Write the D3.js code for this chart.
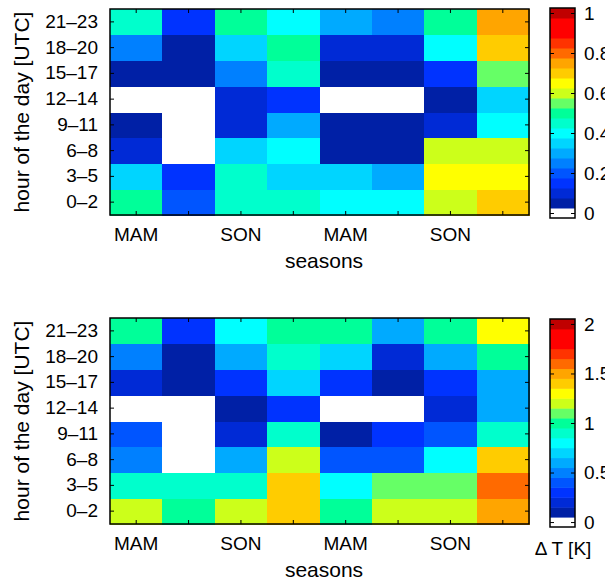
<!DOCTYPE html>
<html>
<head>
<meta charset="utf-8">
<script src="https://cdn.jsdelivr.net/npm/d3@7"></script>
<style>
  body { margin: 0; background: #fff; }
  svg { display: block; font-family: "Liberation Sans", Arial, Helvetica, sans-serif; }
</style>
</head>
<body>
<svg id="chart" width="605" height="581"></svg>
<script>
// ---- data ----
const seasons = ["MAM", "JJA", "SON", "DJF", "MAM2", "JJA2", "SON2", "DJF2"];
const seasonLabels = ["MAM", "", "SON", "", "MAM", "", "SON", ""];
const hours = ["0–2", "3–5", "6–8", "9–11", "12–14", "15–17", "18–20", "21–23"];

// top panel values (rows: hours 0–2 ... 21–23, columns: seasons)
const topValues = [
  [0.50, 0.20, 0.45, 0.45, 0.40, 0.40, 0.60, 0.70],
  [0.35, 0.15, 0.45, 0.35, 0.35, 0.30, 0.65, 0.65],
  [0.10, 0.00, 0.35, 0.40, 0.05, 0.05, 0.60, 0.60],
  [0.05, 0.00, 0.10, 0.30, 0.05, 0.05, 0.10, 0.40],
  [0.00, 0.00, 0.10, 0.15, 0.00, 0.00, 0.05, 0.35],
  [0.05, 0.05, 0.25, 0.45, 0.05, 0.05, 0.15, 0.55],
  [0.25, 0.05, 0.35, 0.50, 0.10, 0.10, 0.40, 0.70],
  [0.45, 0.15, 0.50, 0.40, 0.30, 0.25, 0.50, 0.75]
];

// bottom panel values, ΔT [K]
const bottomValues = [
  [1.2, 1.0, 1.2, 1.4, 1.0, 1.2, 1.2, 1.5],
  [0.9, 0.9, 0.9, 1.4, 0.8, 1.1, 1.1, 1.6],
  [0.5, 0.0, 0.6, 1.2, 0.4, 0.4, 0.8, 1.4],
  [0.4, 0.0, 0.2, 0.9, 0.1, 0.3, 0.4, 0.9],
  [0.0, 0.0, 0.1, 0.3, 0.0, 0.0, 0.2, 0.6],
  [0.2, 0.1, 0.3, 0.7, 0.3, 0.1, 0.3, 0.6],
  [0.5, 0.1, 0.6, 0.9, 0.7, 0.2, 0.6, 1.0],
  [1.0, 0.3, 0.8, 1.0, 1.0, 0.6, 1.0, 1.3]
];

const topTicks = [0, 0.2, 0.4, 0.6, 0.8, 1];
const bottomTicks = [0, 0.5, 1, 1.5, 2];

// 21-level colormap (first level white)
const palette = ["#ffffff", "#0020a6", "#002ad6", "#0033ff", "#0055ff", "#0080ff",
  "#00aaff", "#00d5ff", "#00ffff", "#00ffcc", "#00ff99", "#66ff66", "#ccff1a",
  "#ffff00", "#ffcc00", "#ffa500", "#ff6a00", "#ff3300", "#ff0000", "#ff0000", "#c00000"];

// ---- drawing ----
const svg = d3.select("#chart");
const FS = 19, LFS = 21;

const panels = [
  { values: topValues, max: 1, ticks: topTicks, fmt: d => String(d),
    py: [9, 215], cbY: [8, 218], cbLabel: null },
  { values: bottomValues, max: 2, ticks: bottomTicks, fmt: d => String(d),
    py: [318, 524], cbY: [319, 527], cbLabel: "Δ T [K]" }
];

const px = [110, 529];
const cbX = [550, 575];

panels.forEach(p => {
  const n = palette.length - 1;       // 20 steps
  const step = p.max / n;
  const thresholds = d3.range(n).map(k => (k + 0.5) * step);
  const color = d3.scaleThreshold().domain(thresholds).range(palette);

  const x = d3.scaleBand().domain(d3.range(seasons.length)).range(px).padding(0);
  const y = d3.scaleBand().domain(hours.slice().reverse()).range(p.py).padding(0);

  const g = svg.append("g");
  const cells = [];
  p.values.forEach((row, i) => row.forEach((v, j) => cells.push({ h: hours[i], s: j, v })));

  g.selectAll("rect.cell").data(cells).join("rect")
    .attr("class", "cell")
    .attr("x", d => x(d.s))
    .attr("y", d => y(d.h))
    .attr("width", x.bandwidth() + 0.5)
    .attr("height", y.bandwidth() + 0.5)
    .attr("fill", d => color(d.v))
    .attr("shape-rendering", "crispEdges");

  // axes
  const axB = d3.axisBottom(x).tickSize(-4).tickPadding(13).tickFormat(i => seasonLabels[i]);
  const axT = d3.axisTop(x).tickSize(-4).tickFormat("");
  const axL = d3.axisLeft(y).tickSize(-4).tickPadding(12);
  const axR = d3.axisRight(y).tickSize(-4).tickFormat("");

  const style = sel => {
    sel.select(".domain").remove();
    sel.selectAll(".tick line").attr("stroke", "#000").attr("stroke-width", 1);
    sel.selectAll(".tick text").attr("fill", "#000").style("font-size", FS + "px")
      .style("font-family", "'Liberation Sans', Arial, sans-serif");
  };
  g.append("g").attr("transform", `translate(0,${p.py[1]})`).call(axB).call(style);
  g.append("g").attr("transform", `translate(0,${p.py[0]})`).call(axT).call(style);
  g.append("g").attr("transform", `translate(${px[0]},0)`).call(axL).call(style);
  g.append("g").attr("transform", `translate(${px[1]},0)`).call(axR).call(style);

  g.append("rect").attr("x", px[0]).attr("y", p.py[0])
    .attr("width", px[1] - px[0]).attr("height", p.py[1] - p.py[0])
    .attr("fill", "none").attr("stroke", "#000").attr("stroke-width", 1.5);

  // axis labels
  g.append("text").attr("x", 324).attr("y", p.py[1] + 53)
    .attr("text-anchor", "middle").style("font-size", LFS + "px").text("seasons");
  g.append("text")
    .attr("transform", `translate(29,${(p.py[0] + p.py[1]) / 2}) rotate(-90)`)
    .attr("text-anchor", "middle").style("font-size", LFS + "px").text("hour of the day [UTC]");

  // colorbar
  const cy = d3.scaleLinear().domain([-step / 2, p.max + step / 2]).range([p.cbY[1], p.cbY[0]]);
  const levels = d3.range(n + 1).map(k => k * step);
  g.selectAll("rect.cb").data(levels).join("rect")
    .attr("class", "cb")
    .attr("x", cbX[0])
    .attr("y", d => cy(d + step / 2))
    .attr("width", cbX[1] - cbX[0])
    .attr("height", d => cy(d - step / 2) - cy(d + step / 2) + 0.5)
    .attr("fill", d => color(d));

  const cbR = d3.axisRight(cy).tickValues(p.ticks).tickSize(-4).tickPadding(9).tickFormat(p.fmt);
  const cbL = d3.axisLeft(cy).tickValues(p.ticks).tickSize(-4).tickFormat("");
  g.append("g").attr("transform", `translate(${cbX[1]},0)`).call(cbR).call(style);
  g.append("g").attr("transform", `translate(${cbX[0]},0)`).call(cbL).call(style);
  g.append("rect").attr("x", cbX[0]).attr("y", p.cbY[0])
    .attr("width", cbX[1] - cbX[0]).attr("height", p.cbY[1] - p.cbY[0])
    .attr("fill", "none").attr("stroke", "#000").attr("stroke-width", 1.5);

  if (p.cbLabel) {
    g.append("text").attr("x", 563).attr("y", p.cbY[1] + 28)
      .attr("text-anchor", "middle").style("font-size", FS + "px").text(p.cbLabel);
  }
});
</script>
</body>
</html>
